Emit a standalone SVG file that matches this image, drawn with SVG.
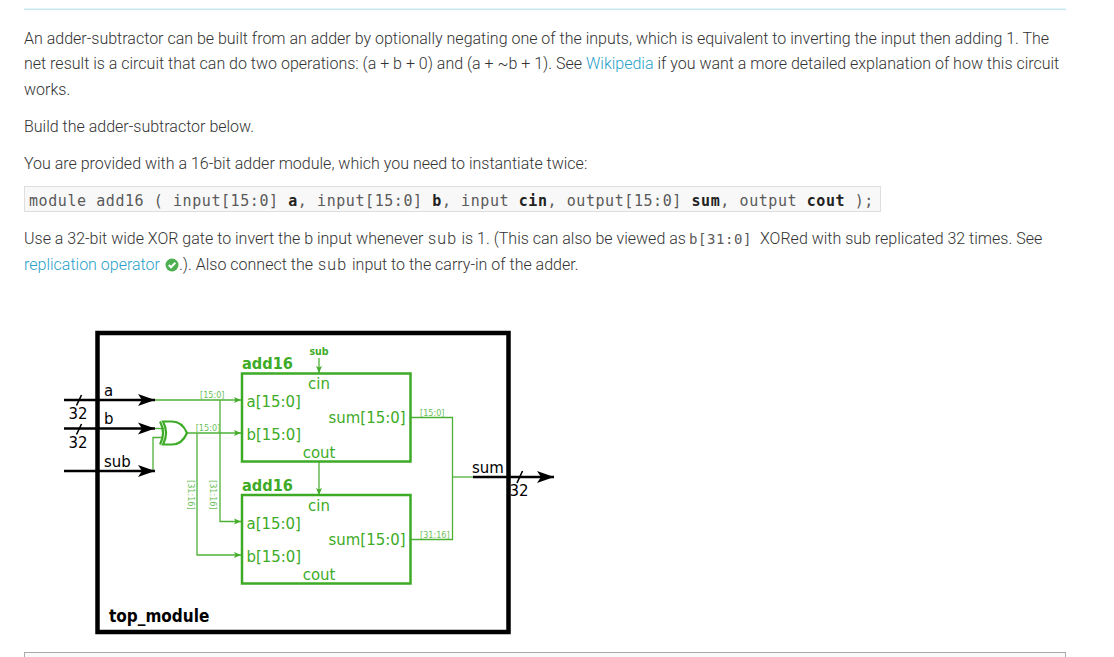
<svg xmlns="http://www.w3.org/2000/svg" width="1114" height="657" viewBox="0 0 1114 657">
<defs>
<marker id="ga" markerUnits="userSpaceOnUse" markerWidth="10" markerHeight="8" refX="7" refY="4" orient="auto" overflow="visible"><path d="M0 1 L7 4 L0 7 L1.500 4Z" fill="#45ad2b"/></marker>
<marker id="ba" markerUnits="userSpaceOnUse" markerWidth="20" markerHeight="14" refX="17" refY="6" orient="auto" overflow="visible"><path d="M0 0 L17 6 L0 12 L4 6Z" fill="#000"/></marker>
</defs>
<style>
text{white-space:pre}
.p{font-family:Roboto,"Liberation Sans",sans-serif;font-size:16px;font-weight:300;fill:#333}
.l{fill:#2a9fc9}
.m{font-family:"DejaVu Sans Mono","Liberation Mono",monospace;font-size:15px;letter-spacing:.57px;fill:#5a5a5a}
.mi{font-family:"DejaVu Sans Mono","Liberation Mono",monospace;font-size:14px;letter-spacing:.57px;fill:#5a5a5a}
.mb{font-weight:700;fill:#222}
.sp{letter-spacing:1.200px}
.d{font-family:"DejaVu Sans Condensed","DejaVu Sans",sans-serif;font-stretch:condensed}
.g{fill:#3dab26}
.gb{fill:#3dab26;font-weight:700}
.k{fill:#000}
.s{font-size:16.600px}
.t{font-size:9px;fill:#6cc05a}
.w{fill:none;stroke:#4db136;stroke-width:1.300}
.wt{fill:none;stroke:#000;stroke-width:2.500}
.box{fill:none;stroke:#3dab26;stroke-width:2.500}
</style>
<rect x="24" y="8.500" width="1042" height="1.500" fill="#c6e9f0"/>
<g id="prose">
<text class="p" x="24" y="44">An adder-subtractor can be built from an adder by optionally negating one of the inputs, which is equivalent to inverting the input then adding 1. The</text>
<text class="p" x="24" y="69">net result is a circuit that can do two operations: (a + b + 0) and (a + ~b + 1). See <tspan class="l">Wikipedia</tspan> if you want a more detailed explanation of how this circuit</text>
<text class="p" x="24" y="95">works.</text>
<text class="p" x="24" y="132">Build the adder-subtractor below.</text>
<text class="p" x="24" y="169">You are provided with a 16-bit adder module, which you need to instantiate twice:</text>
<rect x="24.500" y="186.500" width="856" height="25" fill="#f8f8f8" stroke="#dedede"/>
<text class="m" x="29" y="205.500" xml:space="preserve">module add16 ( input[15:0] <tspan class="mb">a</tspan>, input[15:0] <tspan class="mb">b</tspan>, input <tspan class="mb">cin</tspan>, output[15:0] <tspan class="mb">sum</tspan>, output <tspan class="mb">cout</tspan> );</text>
<text class="p" x="24" y="244">Use a 32-bit wide XOR gate to invert the b input whenever <tspan class="sp" x="428">sub</tspan><tspan x="461.500">is 1. (This can also be viewed as</tspan><tspan class="mi" x="689">b[31:0]</tspan><tspan x="760">XORed with sub replicated 32 times. See</tspan></text>
<text class="p" x="24" y="270"><tspan class="l">replication operator</tspan></text>
<circle cx="172" cy="265" r="6.500" fill="#4caf50"/>
<path d="M168.800 265 L171 267.300 L175.300 262.800" fill="none" stroke="#fff" stroke-width="2"/>
<text class="p" x="179" y="270">.). Also connect the <tspan class="sp" x="318">sub</tspan><tspan x="352">input to the carry-in of the adder.</tspan></text>
</g>
<g id="connectors">
<path class="w" d="M155 400H241" marker-end="url(#ga)"/>
<path class="w" d="M187 433H241" marker-end="url(#ga)"/>
<path class="w" d="M220 400V521.500H241" marker-end="url(#ga)"/>
<path class="w" d="M197 433V555H241" marker-end="url(#ga)"/>
<path class="w" d="M153 471V437.500H162"/>
<path class="w" d="M150 428.500H164"/>
<path class="w" d="M319 358V373" marker-end="url(#ga)"/>
<path class="w" d="M319 462V495" marker-end="url(#ga)"/>
<path class="w" d="M411 417.500H452.500V539.500H411"/>
<path class="w" d="M452.500 477H474"/>
<path class="wt" d="M64 400H155" marker-end="url(#ba)"/>
<path class="wt" d="M64 428.500H155" marker-end="url(#ba)"/>
<path class="wt" d="M64 471H155" marker-end="url(#ba)"/>
<path class="wt" d="M473 477H554" marker-end="url(#ba)"/>
<path d="M76.500 405.500L81.500 395M76.500 434.500L81.500 424M517 483L522.500 471" fill="none" stroke="#000" stroke-width="1.600"/>
<text class="d t" x="200" y="397.700">[15:0]</text>
<text class="d t" x="195.700" y="431.300">[15:0]</text>
<text class="d t" transform="translate(188 480) rotate(90)">[31:16]</text>
<text class="d t" transform="translate(210 480) rotate(90)">[31:16]</text>
<text class="d t" x="420" y="415.700">[15:0]</text>
<text class="d t" x="420" y="538.300">[31:16]</text>
</g>
<g id="top_module">
<rect x="97.500" y="333" width="411" height="299" fill="none" stroke="#000" stroke-width="4.500"/>
<text class="d k" x="109" y="621.500" font-size="17" font-weight="700">top_module</text>
<text class="d k s" x="104" y="395.500">a</text>
<text class="d k s" x="104" y="424">b</text>
<text class="d k s" x="104" y="467">sub</text>
<text class="d k s" x="78" y="419" text-anchor="middle">32</text>
<text class="d k s" x="78" y="448" text-anchor="middle">32</text>
<text class="d k s" x="472" y="473">sum</text>
<text class="d k s" x="519" y="496" text-anchor="middle">32</text>
</g>
<g id="xor">
<path d="M163 421.500H172C179 421.500 184 426 187 433C184 440 179 444.500 172 444.500H163C167 437 167 429 163 421.500Z" fill="#fff" stroke="#3dab26" stroke-width="2.200"/>
<path d="M160 421.500C164 429 164 437 160 444.500" fill="none" stroke="#3dab26" stroke-width="2.200"/>
</g>
<g id="add16_1">
<rect class="box" x="242" y="373.500" width="168.500" height="88"/>
<text class="d gb" x="242" y="368.500" font-size="16.200">add16</text>
<text class="d gb" x="319" y="355" font-size="10.500" text-anchor="middle">sub</text>
<text class="d g s" x="319" y="389" text-anchor="middle">cin</text>
<text class="d g s" x="246.500" y="406.500">a[15:0]</text>
<text class="d g s" x="246.500" y="439.500">b[15:0]</text>
<text class="d g s" x="405.500" y="422.500" text-anchor="end">sum[15:0]</text>
<text class="d g s" x="319" y="457.500" text-anchor="middle">cout</text>
</g>
<g id="add16_2">
<rect class="box" x="242" y="495" width="168.500" height="88.500"/>
<text class="d gb" x="242" y="490.500" font-size="16.200">add16</text>
<text class="d g s" x="319" y="511" text-anchor="middle">cin</text>
<text class="d g s" x="246.500" y="528.500">a[15:0]</text>
<text class="d g s" x="246.500" y="561.500">b[15:0]</text>
<text class="d g s" x="405.500" y="544.500" text-anchor="end">sum[15:0]</text>
<text class="d g s" x="319" y="579.500" text-anchor="middle">cout</text>
</g>
<rect x="24.500" y="652.500" width="1041" height="10" fill="#fafafa" stroke="#aaa"/>
</svg>
